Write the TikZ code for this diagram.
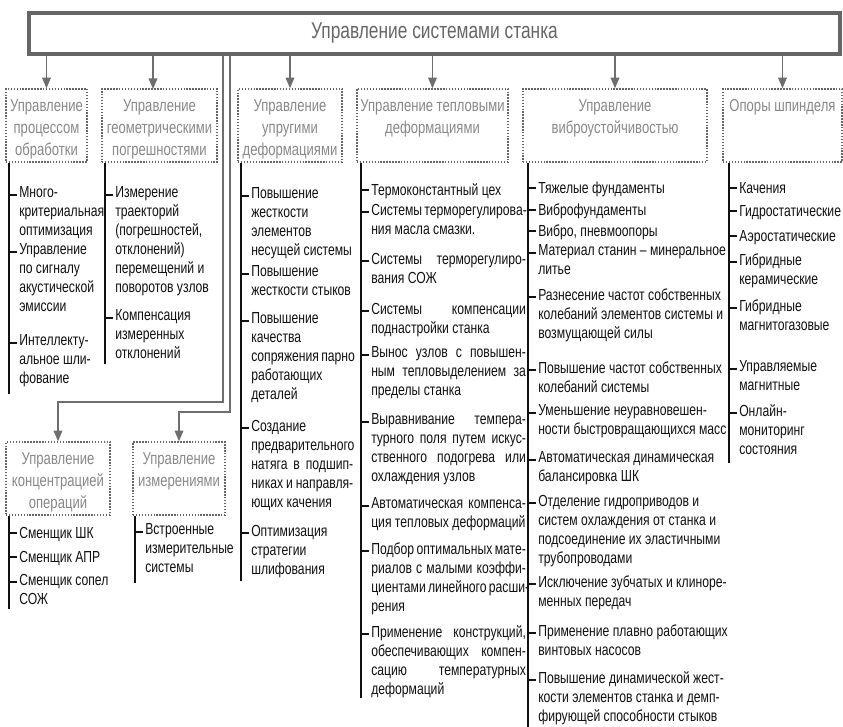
\documentclass[tikz,border=0pt]{standalone}
\usepackage{fontspec}
\setmainfont{Liberation Sans}[FakeStretch=0.76]
\usetikzlibrary{arrows.meta}

\definecolor{framegray}{HTML}{666666}
\definecolor{headgray}{HTML}{888888}
\definecolor{arrowgray}{HTML}{6E6E6E}
\definecolor{ink}{HTML}{111111}

% header text, set from the top of its box
\newcommand{\headtext}[2]{\parbox[c][54.75pt][t]{#1}{\centering\rule{0pt}{16.5pt}#2}}
% justified lines of the two narrow columns
\newcommand{\jc}[1]{\makebox[76.5pt][s]{#1}}
\newcommand{\jd}[1]{\makebox[116pt][s]{#1}}

\begin{document}
\begin{tikzpicture}[x=0.75pt, y=-0.75pt, >={Triangle[length=8pt,width=6.5pt]},
	head/.style={draw=framegray, line width=1.1pt, dash pattern=on 1.1pt off 1.1pt,
		text=headgray, inner sep=0pt, font=\fontsize{12.9}{16.5}\selectfont},
	item/.style={anchor=north west, yshift=9.975pt, inner sep=0pt, align=left, text=ink,
		font=\fontsize{12}{14.25}\selectfont, execute at begin node=\strut},
	stem/.style={ink, line width=1.3pt},
	arr/.style={arrowgray, line width=1.1pt, ->}]
	\useasboundingbox (0,0) rectangle (843,726);

	\node[draw=framegray, line width=2.6pt, minimum width=608.25pt, minimum height=30.75pt,
		inner sep=0pt, text=framegray, font=\fontsize{17.1}{19}\selectfont] (top) at (434.5,33.5)
		{Управление системами станка};

	\node[head] (h1) at (46.5,125.5) {\headtext{60.75pt}{Управление\\процессом\\обработки}};
	\node[head] (h2) at (159.5,125.5) {\headtext{86.25pt}{Управление\\геометрическими\\погрешностями}};
	\node[head] (h3) at (290,125.5) {\headtext{78pt}{Управление\\упругими\\деформациями}};
	\node[head] (h4) at (432.5,125.5) {\headtext{113.25pt}{\mbox{Управление тепловыми}\\деформациями}};
	\node[head] (h5) at (615,125.5) {\headtext{138pt}{Управление\\виброустойчивостью}};
	\node[head] (h6) at (782.5,125.5) {\headtext{89.25pt}{Опоры шпинделя}};
	\node[head] (h7) at (58,478.5) {\headtext{78pt}{Управление\\концентрацией\\операций}};
	\node[head] (h8) at (179,478.5) {\headtext{69pt}{Управление\\измерениями}};

	\draw[arr] (top.south -| h1.north) -- (h1.north);
	\draw[arr] (top.south -| 153,0) -- (153,89);
	\draw[arr] (top.south -| h3.north) -- (h3.north);
	\draw[arr] (top.south -| h4.north) -- (h4.north);
	\draw[arr] (top.south -| h5.north) -- (h5.north);
	\draw[arr] (top.south -| h6.north) -- (h6.north);

	\coordinate (d7) at (223,56);
	\coordinate (d8) at (230,56);
	\draw[arr] (d7) -- ++(0,346) -| (h7.north);
	\draw[arr] (d8) -- ++(0,356) -| (h8.north);

	\draw[stem] ([xshift=3pt]h1.south west) -- ++(0,231);
	\draw[stem] ([xshift=3pt]h2.south west) -- ++(0,201);
	\draw[stem] ([xshift=3pt]h3.south west) -- ++(0,418);
	\draw[stem] ([xshift=3.75pt]h4.south west) -- ++(0,535);
	\draw[stem] ([xshift=4.5pt]h5.south west) -- ++(0,566);
	\draw[stem] ([xshift=5.25pt]h6.south west) -- ++(0,300);
	\draw[stem] ([xshift=3pt]h7.south west) -- ++(0,93);
	\draw[stem] ([xshift=2.25pt]h8.south west) -- ++(0,67);

	\node[item] (c1a) at (19,200) {Много-\\критериальная\\оптимизация};
	\node[item] (c1b) at (19,257) {Управление\\по сигналу\\акустической\\эмиссии};
	\node[item] (c1c) at (19,348) {Интеллекту-\\альное шли-\\фование};

	\node[item] (c2a) at (115,200) {Измерение\\траекторий\\(погрешностей,\\отклонений)\\перемещений и\\поворотов узлов};
	\node[item] (c2b) at (115,323) {Компенсация\\измеренных\\отклонений};

	\node[item] (c3a) at (251,201) {Повышение\\жесткости\\элементов\\несущей системы};
	\node[item] (c3b) at (251,279) {Повышение\\жесткости стыков};
	\node[item] (c3c) at (251,326) {Повышение\\качества\\\jc{сопряжения парно}\\работающих\\деталей};
	\node[item] (c3d) at (251,433) {Создание\\предварительного\\\jc{натяга в подшип-}\\\jc{никах и направля-}\\ющих качения};
	\node[item] (c3e) at (251,538) {Оптимизация\\стратегии\\шлифования};

	\node[item] (c4a) at (371,195) {Термоконстантный цех};
	\node[item] (c4b) at (371,217) {\jd{Системы терморегулирова-}\\ния масла смазки.};
	\node[item] (c4c) at (371,266) {\jd{Системы терморегулиро-}\\вания СОЖ};
	\node[item] (c4d) at (371,316) {\jd{Системы компенсации}\\поднастройки станка};
	\node[item] (c4e) at (371,360) {\jd{Вынос узлов с повышен-}\\\jd{ным тепловыделением за}\\пределы станка};
	\node[item] (c4f) at (371,427) {\jd{Выравнивание темпера-}\\\jd{турного поля путем искус-}\\\jd{ственного подогрева или}\\охлаждения узлов};
	\node[item] (c4g) at (371,511) {\jd{Автоматическая компенса-}\\ция тепловых деформаций};
	\node[item] (c4h) at (371,556) {\jd{Подбор оптимальных мате-}\\\jd{риалов с малыми коэффи-}\\\jd{циентами линейного расши-}\\рения};
	\node[item] (c4i) at (371,639) {\jd{Применение конструкций,}\\\jd{обеспечивающих компен-}\\\jd{сацию температурных}\\деформаций};

	\node[item] (c5a) at (538,193) {Тяжелые фундаменты};
	\node[item] (c5b) at (538,215) {Виброфундаменты};
	\node[item] (c5c) at (538,236) {Вибро, пневмоопоры};
	\node[item] (c5d) at (538,258) {Материал станин – минеральное\\литье};
	\node[item] (c5e) at (538,302) {Разнесение частот собственных\\колебаний элементов системы и\\возмущающей силы};
	\node[item] (c5f) at (538,375) {Повышение частот собственных\\колебаний системы};
	\node[item] (c5g) at (538,418) {Уменьшение неуравновешен-\\ности быстровращающихся масс};
	\node[item] (c5h) at (538,465) {Автоматическая динамическая\\балансировка ШК};
	\node[item] (c5i) at (538,508) {Отделение гидроприводов и\\систем охлаждения от станка и\\подсоединение их эластичными\\трубопроводами};
	\node[item] (c5j) at (538,589) {Исключение зубчатых и клиноре-\\менных передач};
	\node[item] (c5k) at (538,638) {Применение плавно работающих\\винтовых насосов};
	\node[item] (c5l) at (538,685) {Повышение динамической жест-\\кости элементов станка и демп-\\фирующей способности стыков};

	\node[item] (c6a) at (739,193) {Качения};
	\node[item] (c6b) at (739,216) {Гидростатические};
	\node[item] (c6c) at (739,241) {Аэростатические};
	\node[item] (c6d) at (739,267) {Гибридные\\керамические};
	\node[item] (c6e) at (739,313) {Гибридные\\магнитогазовые};
	\node[item] (c6f) at (739,374) {Управляемые\\магнитные};
	\node[item] (c6g) at (739,418) {Онлайн-\\мониторинг\\состояния};

	\node[item] (c7a) at (19,538) {Сменщик ШК};
	\node[item] (c7b) at (19,562) {Сменщик АПР};
	\node[item] (c7c) at (19,587) {Сменщик сопел\\СОЖ};

	\node[item] (c8a) at (145,537) {Встроенные\\измерительные\\системы};

	\foreach \n in {c1a,c1b,c1c,c2a,c2b,c3a,c3b,c3c,c3d,c3e,c4a,c4b,c4c,c4d,c4e,c4f,c4g,c4h,c4i,
		c5a,c5b,c5c,c5d,c5e,c5f,c5g,c5h,c5i,c5j,c5k,c5l,c6a,c6b,c6c,c6d,c6e,c6f,c6g,c7a,c7b,c7c,c8a}
		\draw[stem] (\n.north west) ++(-2,8.3) -- ++(-7,0);
\end{tikzpicture}
\end{document}
